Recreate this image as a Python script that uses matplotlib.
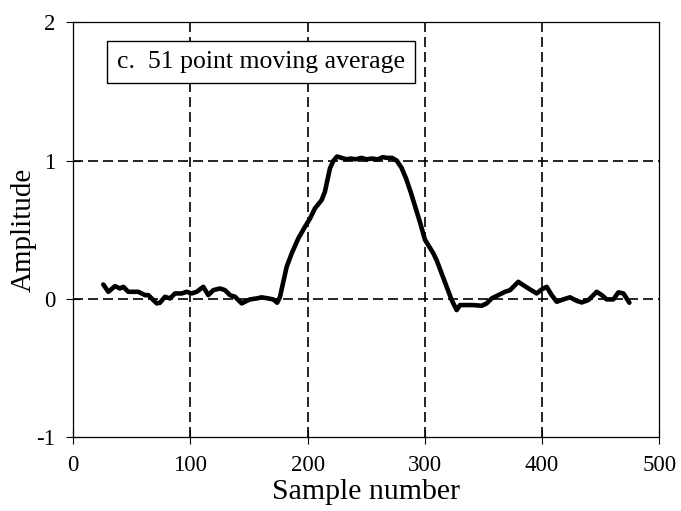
import numpy as np
import matplotlib
matplotlib.use("Agg")
import matplotlib.pyplot as plt

# Values (51 point moving average output)
sample = [25.6, 29.9, 35.6, 39.8, 42.7, 46.9, 55.5, 61.2, 64.0, 66.9,
          71.2, 74.0, 78.2, 82.5, 86.8, 92.5, 96.8, 101.0, 105.3, 110.9,
          115.2, 119.5, 125.2, 129.4, 133.7, 138.0, 143.7, 146.5, 150.8, 156.5,
          160.7, 166.4, 170.6, 174.0, 176.4, 179.2, 182.1, 186.4, 192.0, 197.7,
          202.0, 206.2, 211.9, 214.7, 219.0, 222.0, 225.0, 229.0, 233.0, 237.0,
          241.0, 246.0, 250.0, 255.0, 260.0, 264.0, 268.0, 272.0, 276.0, 280.0,
          284.0, 288.0, 292.0, 296.0, 300.0, 307.2, 310.0, 314.3, 318.6,
          322.9, 327.1, 330.0, 335.7, 341.3, 348.5, 352.7, 357.0, 362.7, 368.4,
          372.7, 379.7, 384.0, 389.7, 395.4, 399.7, 403.9, 408.2, 412.5, 418.1,
          423.8, 429.5, 433.8, 439.5, 446.6, 450.9, 455.1, 460.8, 465.1, 469.4,
          474.5]
amplitude = [0.105, 0.052, 0.093, 0.076, 0.088, 0.052, 0.052, 0.028, 0.028, 0.004,
             -0.032, -0.027, 0.016, 0.004, 0.040, 0.040, 0.052, 0.040, 0.052, 0.088,
             0.028, 0.064, 0.076, 0.064, 0.028, 0.016, -0.032, -0.020, -0.003, 0.004,
             0.012, 0.004, -0.003, -0.027, 0.016, 0.124, 0.233, 0.330, 0.438, 0.522,
             0.582, 0.655, 0.715, 0.775, 0.944, 1.000, 1.030, 1.020, 1.010, 1.015,
             1.010, 1.020, 1.010, 1.015, 1.010, 1.025, 1.020, 1.020, 1.000, 0.950,
             0.870, 0.770, 0.660, 0.550, 0.430, 0.330, 0.281, 0.185, 0.088,
             -0.008, -0.080, -0.044, -0.044, -0.044, -0.049, -0.032, 0.004, 0.028, 0.052,
             0.064, 0.124, 0.100, 0.069, 0.040, 0.069, 0.088, 0.028, -0.020, -0.003,
             0.012, -0.013, -0.025, -0.008, 0.052, 0.028, -0.003, -0.003, 0.048, 0.040,
             -0.027]

x_ticks = [0, 100, 200, 300, 400, 500]
y_ticks = [-1, 0, 1, 2]
x_grid = [100, 200, 300, 400]
y_grid = [0, 1]
title = "c.  51 point moving average"

plt.rcParams["font.family"] = ["Liberation Serif", "DejaVu Serif"]
plt.rcParams["axes.unicode_minus"] = False

fig = plt.figure(figsize=(6.81, 5.11), dpi=100)
ax = fig.add_axes([0.1076, 0.1442, 0.8605, 0.8121])

# dashed grid
for gx in x_grid:
    ax.axvline(gx, color="black", lw=1.2, linestyle=(0, (6, 3)), zorder=1)
for gy in y_grid:
    ax.axhline(gy, color="black", lw=1.2, linestyle=(0, (6, 3)), zorder=1)

ax.plot(sample, amplitude, color="black", lw=3.3, solid_joinstyle="round",
        solid_capstyle="round", zorder=3)

ax.set_xlim(0, 500)
ax.set_ylim(-1, 2)
ax.set_xticks(x_ticks)
ax.set_yticks(y_ticks)
ax.tick_params(direction="inout", length=10, width=0.8, labelsize=16.5, pad=8)
for sp in ax.spines.values():
    sp.set_linewidth(0.9)

ax.set_xlabel("Sample number", fontsize=21.5, labelpad=2)
ax.set_ylabel("Amplitude", fontsize=21, labelpad=0)

fig.text(117 / 681, 1 - 62 / 511, title, fontsize=18.5, ha="left", va="center",
         bbox=dict(boxstyle="square,pad=0.38", fc="white", ec="black", lw=1))

fig.savefig("out.png", dpi=100)
